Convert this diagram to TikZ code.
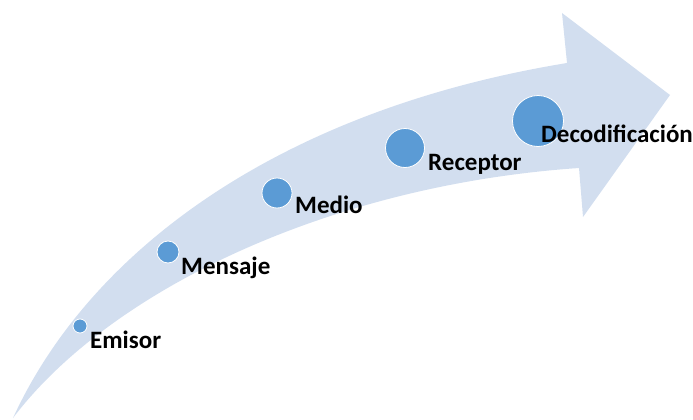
\documentclass[tikz,border=0pt]{standalone}
\usepackage{fontspec}
\setmainfont{Carlito}
\usetikzlibrary{positioning}

\definecolor{arrowfill}{RGB}{210,222,239}
\definecolor{dotblue}{RGB}{91,155,213}

\begin{document}
\begin{tikzpicture}[
    x=1pt, y=-1pt,
    font=\bfseries\fontsize{25}{30}\selectfont,
    % Styles
    dot/.style = {circle, inner sep=0pt, fill=dotblue, draw=white, line width=0.8pt},
    stage/.style = {anchor=base west, inner sep=0pt, text=black}
]
\useasboundingbox (0,0) rectangle (693,420);

% --- big curved arrow ---
\fill[arrowfill] (13,418) .. controls (90,250) and (280,110) .. (567,63)
    -- (562,13) -- (670,95) -- (583,217) -- (579,168)
    .. controls (330,185) and (110,290) .. (13,418) -- cycle;

% --- stages along the arrow ---
\node[dot, minimum size=14pt] (emisor) at (80,326) {};
\node[dot, minimum size=22pt] (mensaje) at (168,252) {};
\node[dot, minimum size=30pt] (medio) at (277,193) {};
\node[dot, minimum size=39pt] (receptor) at (405,148) {};
\node[dot, minimum size=51pt] (decod) at (538,121) {};

\node[stage] (emisor_lbl) at (90,348) {Emisor};
\node[stage] (mensaje_lbl) at (181,274) {Mensaje};
\node[stage] (medio_lbl) at (295,213) {Medio};
\node[stage] (receptor_lbl) at (428,170) {Receptor};
\node[stage] (decod_lbl) at (541,142) {Decodificación};

\end{tikzpicture}
\end{document}
